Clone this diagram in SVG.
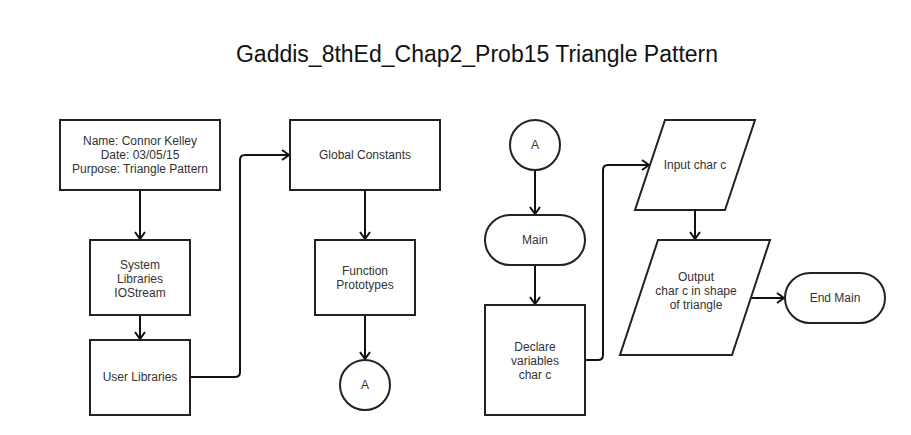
<svg xmlns="http://www.w3.org/2000/svg" width="911" height="435" viewBox="0 0 911 435">
<style>
.box{fill:#fff;stroke:#222;stroke-width:2}
.t{font-family:"Liberation Sans",Arial,sans-serif;font-size:12px;fill:#333;text-anchor:middle}
.title{font-family:"Liberation Sans",Arial,sans-serif;font-size:23px;fill:#111;text-anchor:middle}
.c{fill:none;stroke:#111;stroke-width:2;marker-end:url(#arr)}
</style>
<defs>
<marker id="arr" markerUnits="userSpaceOnUse" markerWidth="14" markerHeight="14" refX="10" refY="7" orient="auto">
<path d="M3,2 L10,7 L3,12" fill="none" stroke="#111" stroke-width="2"/>
</marker>
</defs>
<rect width="911" height="435" fill="#fff"/>
<text class="title" x="477" y="62">Gaddis_8thEd_Chap2_Prob15 Triangle Pattern</text>
<g id="connectors">
<path class="c" d="M140,190 V239"/>
<path class="c" d="M140,315 V339"/>
<path class="c" d="M365,190 V239"/>
<path class="c" d="M365,315 V359"/>
<path class="c" d="M535,170 V214"/>
<path class="c" d="M535,265 V304"/>
<path class="c" d="M695,210 V239"/>
<path class="c" d="M751,298 H784"/>
<path class="c" d="M190,377 H235 Q240,377 240,372 V160 Q240,155 245,155 H289"/>
<path class="c" d="M585,360 H598 Q603,360 603,355 V170 Q603,165 608,165 H649"/>
</g>
<g id="header">
<rect class="box" x="60" y="120" width="160" height="70"/>
<text class="t" x="140" y="145">Name: Connor Kelley</text>
<text class="t" x="140" y="159">Date: 03/05/15</text>
<text class="t" x="140" y="173">Purpose: Triangle Pattern</text>
</g>
<g id="syslib">
<rect class="box" x="90" y="240" width="100" height="75"/>
<text class="t" x="140" y="269">System</text>
<text class="t" x="140" y="283">Libraries</text>
<text class="t" x="140" y="297">IOStream</text>
</g>
<g id="userlib">
<rect class="box" x="90" y="340" width="100" height="75"/>
<text class="t" x="140" y="381">User Libraries</text>
</g>
<g id="globals">
<rect class="box" x="290" y="120" width="150" height="70"/>
<text class="t" x="365" y="159">Global Constants</text>
</g>
<g id="protos">
<rect class="box" x="315" y="240" width="100" height="75"/>
<text class="t" x="365" y="275">Function</text>
<text class="t" x="365" y="289">Prototypes</text>
</g>
<g id="connA1">
<circle class="box" cx="365" cy="385" r="25"/>
<text class="t" x="365" y="389">A</text>
</g>
<g id="connA2">
<circle class="box" cx="535" cy="145" r="25"/>
<text class="t" x="535" y="149">A</text>
</g>
<g id="main">
<rect class="box" x="485" y="215" width="100" height="50" rx="25" ry="25"/>
<text class="t" x="535" y="244">Main</text>
</g>
<g id="declare">
<rect class="box" x="485" y="305" width="100" height="110"/>
<text class="t" x="535" y="351">Declare</text>
<text class="t" x="535" y="365">variables</text>
<text class="t" x="535" y="379">char c</text>
</g>
<g id="input">
<polygon class="box" points="665,120 755,120 725,210 635,210"/>
<text class="t" x="695" y="169">Input char c</text>
</g>
<g id="output">
<polygon class="box" points="658,240 770,240 732,355 620,355"/>
<text class="t" x="696" y="281">Output</text>
<text class="t" x="696" y="295">char c in shape</text>
<text class="t" x="696" y="309">of triangle</text>
</g>
<g id="endmain">
<rect class="box" x="785" y="273" width="100" height="50" rx="25" ry="25"/>
<text class="t" x="835" y="302">End Main</text>
</g>
</svg>
